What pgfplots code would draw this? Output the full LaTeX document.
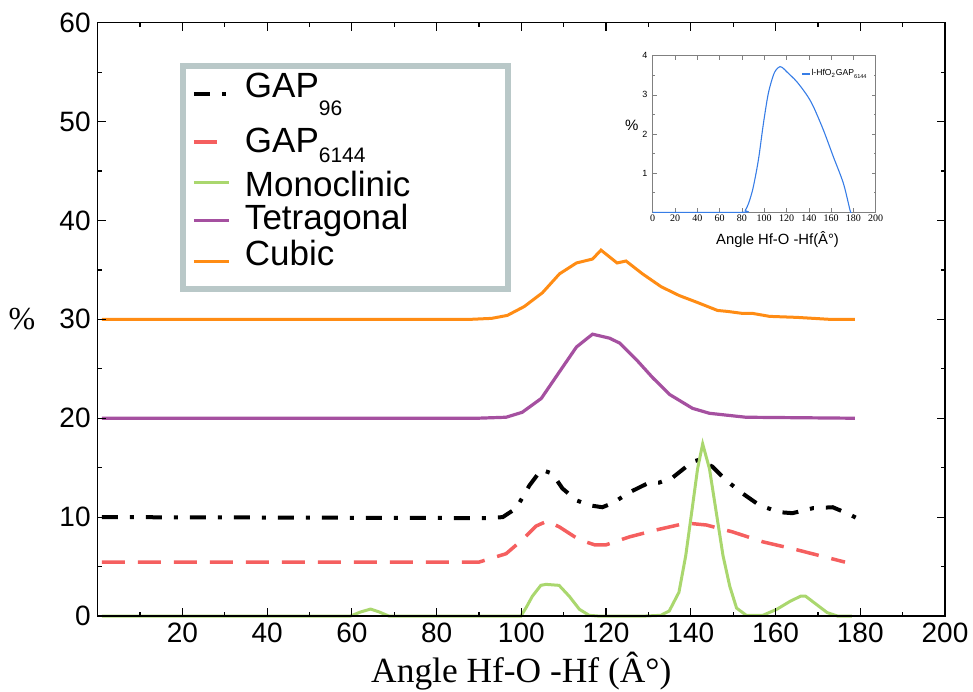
\documentclass[border=0pt]{standalone}
\usepackage{fontspec}
\setmainfont{Liberation Sans}
\newfontfamily\tms{Liberation Serif}
\usepackage{pgfplots}
\pgfplotsset{compat=1.18}
\definecolor{cOrange}{RGB}{255,140,20}
\definecolor{cPurple}{RGB}{165,80,160}
\definecolor{cGreen}{RGB}{170,215,110}
\definecolor{cRed}{RGB}{245,95,95}
\definecolor{cBlue}{RGB}{55,125,230}
\definecolor{cFrame}{RGB}{185,200,200}
\newcommand{\lsub}[2]{\lower#1\hbox{\fontsize{10.5}{12}\selectfont #2}}
\pgfplotsset{
  limgA/.style={legend image code/.code={\draw[##1] (0pt,1.7pt) -- (17.5pt,1.7pt); \path[draw=none,fill=none] (0pt,-14.5pt) rectangle (0.1pt,13pt);}},
  limgB/.style={legend image code/.code={\draw[##1] (0pt,5pt) -- (17.5pt,5pt); \path[draw=none,fill=none] (0pt,-9pt) rectangle (0.1pt,13pt);}},
  limgC/.style={legend image code/.code={\draw[##1] (0pt,6.7pt) -- (17.5pt,6.7pt); \path[draw=none,fill=none] (0pt,-3.5pt) rectangle (0.1pt,13pt);}},
  limgD/.style={legend image code/.code={\draw[##1] (0pt,4.2pt) -- (17.5pt,4.2pt); \path[draw=none,fill=none] (0pt,-5pt) rectangle (0.1pt,13pt);}},
  limgE/.style={legend image code/.code={\draw[##1] (0pt,1.7pt) -- (17.5pt,1.7pt); \path[draw=none,fill=none] (0pt,-9.5pt) rectangle (0.1pt,13pt);}},
  insetimg/.style={legend image code/.code={\draw[##1] (0pt,0pt) -- (4pt,0pt);}},
}
\begin{document}
\begin{tikzpicture}
\begin{axis}[name=main, at={(0,0)}, anchor=south west, scale only axis,
  width=423.65pt, height=296.65pt,
  xmin=0, xmax=200, ymin=0, ymax=60, clip=false, axis on top,
  xtick={20,40,...,200}, minor xtick={10,30,...,190},
  ytick={0,10,...,60}, minor ytick={5,15,...,55},
  axis line style={line width=0.7pt},
  major tick length=4pt, minor tick length=2pt,
  every tick/.style={black, line width=0.6pt},
  tick align=inside,
  /pgf/number format/assume math mode=true,
  ticklabel style={font=\fontsize{14}{16}\selectfont},
  xlabel={\tms\fontsize{17.7}{20}\selectfont Angle Hf-O -Hf (Â°)},
  xlabel style={at={(axis description cs:0.5,0)}, anchor=base, yshift=-33pt},
  ylabel={\tms\fontsize{16}{18}\selectfont\%},
  ylabel style={rotate=-90, at={(axis description cs:0,0.5)}, anchor=center, xshift=-37.9pt},
  legend cell align=left,
  legend style={at={(axis description cs:0.0971,0.932)}, anchor=north west,
    draw=cFrame, line width=3pt, fill=white,
    inner xsep=4.5pt, inner ysep=2.5pt, row sep=0pt, column sep=7pt,
    font=\fontsize{17.5}{20}\selectfont,
    cells={anchor=base west}, nodes={inner sep=0pt, anchor=base west}},
]
\addplot[black, line width=2pt, dash pattern=on 8pt off 6pt on 2pt off 6pt, limgA]
coordinates {(1,10) (92,9.9) (95.6,10) (98.8,10.9) (101.9,13.2) (104.7,14.8) (107.3,14.4) (109.7,12.9) (113,11.7) (116,11.2) (119.1,11.0) (121.5,11.4) (125.5,12.5) (130.2,13.5) (132.6,13.5) (135.7,14.0) (140.4,15.6) (142,15.8) (145.1,15.1) (148.4,13.7) (152.2,12.4) (156.2,11.2) (160.9,10.5) (164,10.4) (168.8,10.9) (173.5,11.0) (176.8,10.4) (179.2,9.9)};
\addlegendentry{\makebox[127pt][l]{GAP\lsub{9pt}{96}}}
\addplot[cRed, line width=1.75pt, dash pattern=on 11.5pt off 6.5pt, limgB]
coordinates {(1,5.45) (90,5.45) (96.4,6.3) (100.2,7.7) (103.5,9.1) (106.1,9.6) (109,9.0) (113.7,7.7) (117.3,7.2) (120,7.2) (125.5,8.0) (131.8,8.7) (139,9.4) (143.7,9.2) (149.9,8.5) (157,7.5) (165,6.7) (176.4,5.45)};
\addlegendentry{GAP\lsub{5pt}{6144}}
\addplot[cGreen, line width=1.5pt, limgC]
coordinates {(1,0) (59.7,0) (62,0.4) (64.4,0.7) (66.5,0.4) (68.7,0) (99.9,0) (101.2,0.9) (102.6,2.0) (104.6,3.1) (105.8,3.2) (108.9,3.1) (111.3,2.0) (113.7,0.68) (116,0.07) (118,0) (129.4,0) (132.9,0.07) (134.9,0.5) (137.2,2.4) (138.8,6.1) (140.4,11.1) (141.6,14.9) (142.8,17.4) (144.4,14.9) (146,10.5) (147.6,6.1) (149.2,3.0) (150.8,0.8) (153.1,0.07) (157,0.07) (160.3,0.68) (163.5,1.5) (165.9,2.0) (167.1,2.0) (169.1,1.35) (172.2,0.34) (174.6,0) (178,0)};
\addlegendentry{Monoclinic}
\addplot[cPurple, line width=1.6pt, limgD]
coordinates {(1,20) (89.6,20) (96.4,20.1) (100.2,20.6) (104.7,22.0) (109,24.7) (113,27.2) (116.8,28.5) (120.8,28.1) (123.2,27.6) (127.2,25.9) (131,24.1) (135,22.4) (140.4,21.0) (144.4,20.5) (153,20.1) (178.7,20)};
\addlegendentry{Tetragonal}
\addplot[cOrange, line width=1.5pt, limgE]
coordinates {(1,30) (88,30) (93,30.1) (96.7,30.4) (100.7,31.3) (105,32.7) (109,34.6) (113,35.7) (116.8,36.1) (118.8,37.0) (122.6,35.7) (124.7,35.9) (128.6,34.6) (133,33.3) (137.3,32.4) (141.6,31.7) (146.3,30.9) (148.7,30.8) (152.2,30.6) (154.6,30.6) (158.6,30.3) (165,30.2) (172.8,30.0) (178.7,30.0)};
\addlegendentry{Cubic}
\end{axis}
\begin{axis}[at={(277.5pt,201.85pt)}, anchor=south west, scale only axis,
  width=111.5pt, height=78.3pt,
  xmin=0, xmax=200, ymin=0, ymax=4,
  xtick={0,20,...,200}, ytick={1,2,3,4}, minor ytick={0.5,1.5,2.5,3.5},
  axis line style={gray, line width=0.4pt},
  major tick length=2pt, minor tick length=1pt,
  every tick/.style={gray, line width=0.3pt},
  tick align=inside,
  /pgf/number format/assume math mode=true,
  xticklabel style={font=\tms\fontsize{5}{6}\selectfont, inner sep=1pt},
  yticklabel style={font=\fontsize{4.5}{5}\selectfont, inner sep=2.5pt},
  xlabel={Angle Hf-O -Hf(Â°)},
  xlabel style={font=\fontsize{7.4}{8}\selectfont, at={(axis description cs:0.56,0)}, anchor=center, yshift=-13.4pt},
  ylabel={\%},
  ylabel style={font=\fontsize{7.5}{8}\selectfont, rotate=-90, at={(axis description cs:0,0.557)}, anchor=center, xshift=-10.5pt},
  insetimg,
  legend style={at={(axis description cs:0.961,0.883)}, anchor=east, draw=none, fill=none,
    inner sep=0pt, column sep=0.5pt, font=\fontsize{4.3}{5}\selectfont,
    nodes={inner sep=0pt}},
]
\addplot[cBlue, line width=0.55pt, smooth]
coordinates {(0,0) (80,0) (83,0.05) (86,0.23) (90,0.62) (94.8,1.34) (99.3,2.27) (103.7,3.04) (108.2,3.5) (111,3.65) (114.2,3.72) (117,3.68) (120.2,3.59) (129.1,3.34) (138.1,3.0) (144.1,2.70) (153.1,2.1) (162,1.42) (171,0.74) (177,0.05) (178,0)};
\addlegendentry{l-HfO\textsubscript{2}GAP\lower1.5pt\hbox{\fontsize{2.8}{3}\selectfont 6144}}
\end{axis}
\pgfresetboundingbox
\path[use as bounding box] (-48.85pt,-37.5pt) rectangle (437.65pt,308.0pt);
\end{tikzpicture}
\end{document}
